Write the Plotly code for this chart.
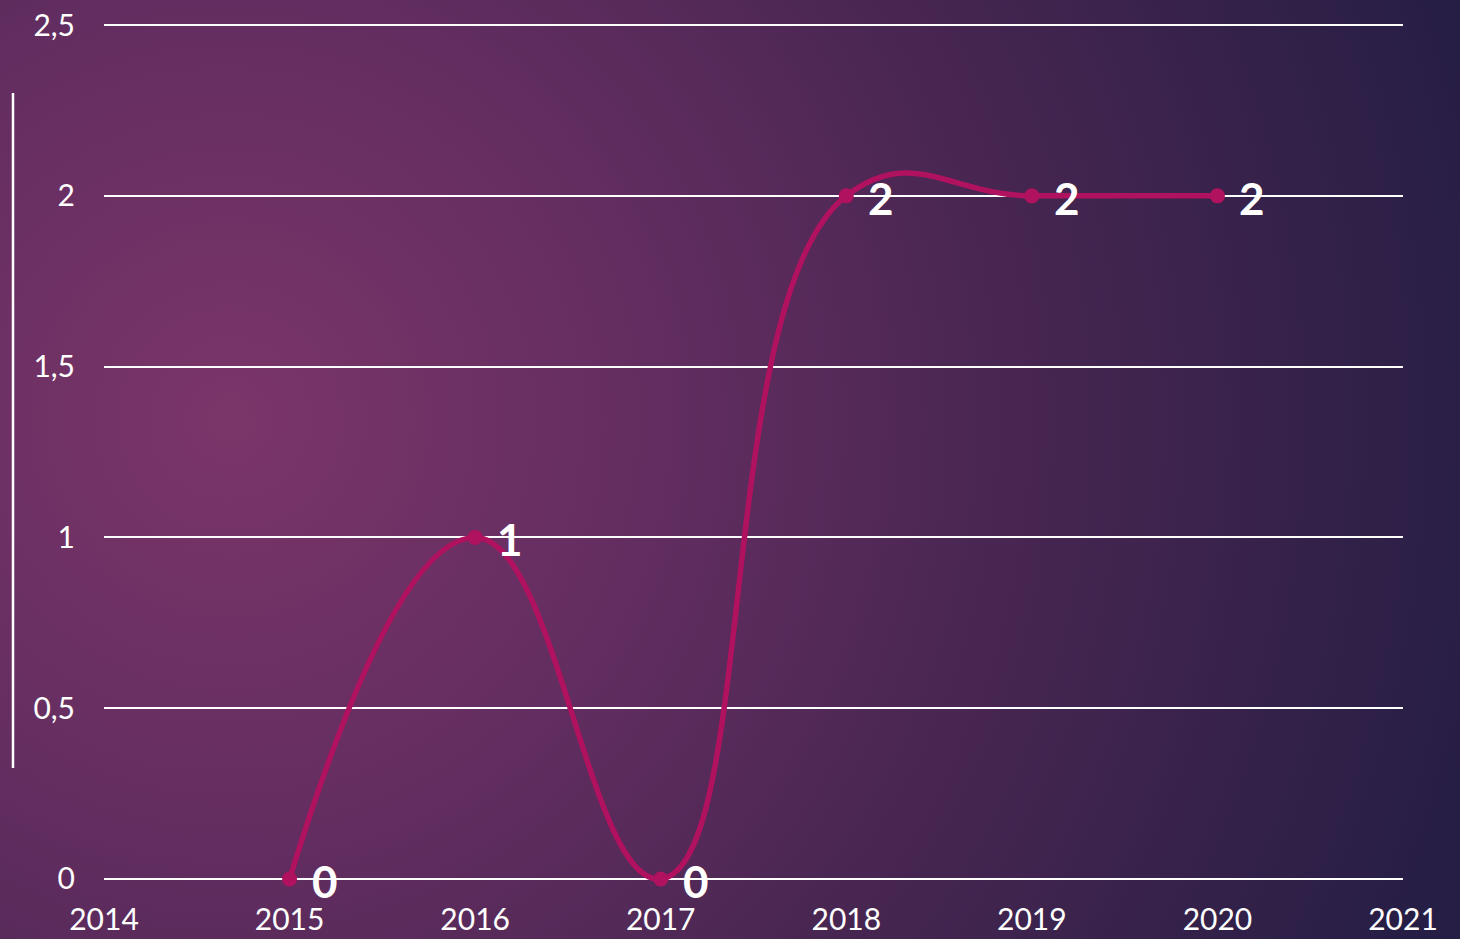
import base64
import plotly.graph_objects as go

years = [2015, 2016, 2017, 2018, 2019, 2020]
values = [0, 1, 0, 2, 2, 2]
labels = ["0", "1", "0", "2", "2", "2"]
x_ticks = [2014, 2015, 2016, 2017, 2018, 2019, 2020, 2021]
y_ticks = [0, 0.5, 1, 1.5, 2, 2.5]

W, H = 1460, 939
ML, MR, MT, MB = 104, 57, 23, 58
PW, PH = W - ML - MR, H - MT - MB

svg = f'''<svg xmlns="http://www.w3.org/2000/svg" width="{W}" height="{H}" viewBox="0 0 {W} {H}" preserveAspectRatio="none">
<defs><radialGradient id="g" gradientUnits="userSpaceOnUse" cx="230" cy="420" r="1280">
<stop offset="0" stop-color="#7b3569"/>
<stop offset="0.34" stop-color="#622d60"/>
<stop offset="0.62" stop-color="#472651"/>
<stop offset="1" stop-color="#271e45"/>
</radialGradient></defs>
<rect width="{W}" height="{H}" fill="url(#g)"/></svg>'''
bg = "data:image/svg+xml;base64," + base64.b64encode(svg.encode()).decode()

font = "Lato"
line_color = "#b0125f"

fig = go.Figure()
fig.add_trace(go.Scatter(
    x=years, y=values, mode="lines+markers",
    line=dict(color=line_color, width=5.5, shape="spline", smoothing=1.3),
    marker=dict(color=line_color, size=15),
    cliponaxis=False, hoverinfo="skip",
))

annotations = [
    dict(x=xv, y=yv, text=t, xref="x", yref="y", showarrow=False,
         xanchor="left", yanchor="middle", xshift=20, yshift=-2,
         font=dict(family=font, size=44, color="white", weight="bold"))
    for xv, yv, t in zip(years, values, labels)
]

fig.update_layout(
    width=W, height=H,
    margin=dict(l=ML, r=MR, t=MT, b=MB, autoexpand=False),
    paper_bgcolor="#4a2654", plot_bgcolor="rgba(0,0,0,0)",
    separators=", ",
    showlegend=False,
    font=dict(family=font, color="white", size=30),
    xaxis=dict(range=[2014, 2021], tickvals=x_ticks, ticktext=[str(v) for v in x_ticks],
               showgrid=False, zeroline=False, showline=False, automargin=False,
               ticks="outside", ticklen=12, tickcolor="rgba(0,0,0,0)",
               tickfont=dict(family=font, size=30, color="white")),
    yaxis=dict(range=[-0.006, 2.506], tickvals=y_ticks, showgrid=True, gridcolor="white", gridwidth=2,
               zeroline=False, showline=False, automargin=False,
               ticks="outside", ticklen=22, tickcolor="rgba(0,0,0,0)",
               tickfont=dict(family=font, size=30, color="white")),
    annotations=annotations,
    images=[dict(source=bg, xref="paper", yref="paper",
                 x=-ML / PW, y=1 + MT / PH, sizex=W / PW, sizey=H / PH,
                 xanchor="left", yanchor="top", sizing="stretch", layer="below")],
    shapes=[dict(type="line", xref="paper", yref="paper",
                 x0=(13 - ML) / PW, x1=(13 - ML) / PW,
                 y0=(H - MB - 93) / PH, y1=(H - MB - 768) / PH,
                 line=dict(color="white", width=2.5))],
)

fig.write_html("out.html", config={"displayModeBar": False},
               post_script="document.body.style.margin='0';document.body.style.overflow='hidden';")
